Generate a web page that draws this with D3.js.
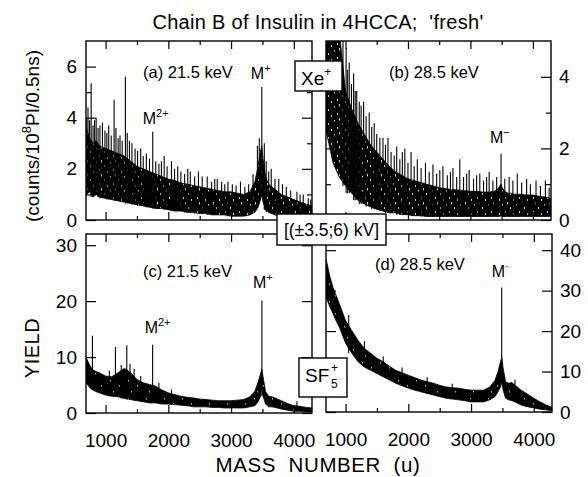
<!DOCTYPE html>
<html>
<head>
<meta charset="utf-8">
<script src="https://cdn.jsdelivr.net/npm/d3@7"></script>
<style>
  body { margin: 0; background: #fff; }
  svg { display: block; font-family: "Liberation Sans", Arial, Helvetica, sans-serif; }
</style>
</head>
<body>
<div id="chart"></div>
<script>
// mass grid shared by the four spectra (u)
const massGrid = [690,750,800,850,900,1000,1100,1200,1300,1400,1500,1600,1700,1800,1900,2000,2100,2200,2300,2400,2500,2600,2700,2800,2900,3000,3100,3200,3300,3380,3430,3470,3490,3510,3550,3600,3650,3700,3800,3900,4000,4100,4200,4290];

// (a) 21.5 keV positive ions: lower / upper edge of the noise band
const aLow  = [1.0,1.1,0.9,1.0,0.9,0.85,0.8,0.75,0.7,0.65,0.6,0.55,0.5,0.45,0.45,0.4,0.35,0.35,0.3,0.3,0.25,0.25,0.2,0.2,0.2,0.15,0.15,0.15,0.2,0.3,0.5,0.8,1.0,0.7,0.4,0.3,0.25,0.2,0.15,0.1,0.1,0.05,0.05,0.05];
const aHigh = [3.6,3.2,3.0,3.1,2.9,2.8,2.7,2.6,2.5,2.3,2.1,2.0,1.9,1.8,1.7,1.6,1.55,1.45,1.4,1.35,1.3,1.25,1.2,1.15,1.1,1.1,1.05,1.0,1.1,1.5,2.1,2.7,2.9,2.4,1.7,1.4,1.3,1.2,1.0,0.9,0.8,0.7,0.62,0.55];
const aSpikes = [[700,4.0],[720,4.4],[745,3.9],[770,5.35],[800,3.7],[825,3.9],[850,4.0],[880,3.6],[910,3.7],[950,3.8],[990,3.5],[1020,3.4],[1050,3.7],[1090,3.3],[1136,4.7],[1165,3.6],[1200,3.2],[1230,3.3],[1265,3.1],[1316,5.6],[1345,3.4],[1380,3.1],[1420,3.0],[1470,2.8],[1510,2.7],[1560,2.8],[1600,2.5],[1650,2.6],[1700,2.4],[1752,3.45],[1800,2.3],[1850,2.2],[1890,2.3],[1934,2.5],[1980,2.1],[2050,2.3],[2100,2.0],[2150,2.1],[2200,1.9],[2260,1.8],[2310,2.0],[2350,1.9],[2420,1.7],[2480,1.9],[2540,1.7],[2620,1.7],[2690,1.5],[2740,1.6],[2780,1.6],[2850,1.5],[2900,1.4],[2950,1.5],[3020,1.4],[3080,1.35],[3150,1.5],[3220,1.3],[3280,1.4],[3350,1.8],[3420,2.9],[3450,3.2],[3490,5.2],[3530,3.0],[3560,2.3],[3600,1.9],[3640,2.0],[3700,1.6],[3760,1.6],[3820,1.4],[3880,1.3],[3950,1.15],[4050,1.1],[4100,1.0],[4150,1.0],[4230,0.85],[4270,0.8]];

// (b) 28.5 keV negative ions
const bLow  = [2.5,2.0,1.6,1.4,1.2,0.95,0.75,0.55,0.45,0.37,0.3,0.25,0.2,0.2,0.15,0.15,0.12,0.12,0.1,0.1,0.1,0.1,0.1,0.1,0.1,0.1,0.1,0.1,0.1,0.1,0.1,0.1,0.12,0.1,0.1,0.1,0.1,0.1,0.1,0.1,0.1,0.1,0.1,0.1];
const bHigh = [6,6,6,6,5.3,3.6,3.1,2.7,2.4,2.1,1.9,1.7,1.5,1.35,1.25,1.15,1.1,1.05,1.0,0.95,0.9,0.88,0.85,0.84,0.82,0.8,0.8,0.78,0.78,0.8,0.85,0.95,1.0,0.9,0.8,0.75,0.75,0.72,0.72,0.7,0.7,0.66,0.64,0.6];
const bSpikes = [[960,5.2],[1010,4.8],[1035,4.2],[1060,4.4],[1095,3.8],[1130,4.1],[1155,3.6],[1180,3.6],[1220,3.3],[1250,3.2],[1290,3.3],[1330,2.9],[1380,3.0],[1420,2.6],[1460,2.7],[1500,2.4],[1550,2.3],[1600,2.3],[1640,2.1],[1680,2.3],[1730,1.9],[1780,1.8],[1820,2.05],[1870,1.7],[1910,1.9],[1950,2.0],[2000,1.6],[2050,1.9],[2100,1.5],[2150,1.7],[2210,1.45],[2280,1.6],[2340,1.35],[2400,1.55],[2460,1.3],[2510,1.4],[2560,1.5],[2630,1.25],[2680,1.35],[2720,1.45],[2780,1.2],[2830,1.7],[2890,1.2],[2940,1.3],[2980,1.4],[3050,1.15],[3100,1.25],[3150,1.3],[3210,1.1],[3260,1.2],[3300,1.35],[3360,1.1],[3420,1.2],[3490,1.85],[3550,1.15],[3620,1.2],[3680,1.1],[3750,1.3],[3820,1.05],[3900,1.15],[3960,1.0],[4050,1.1],[4120,0.95],[4200,1.1],[4260,0.9]];

// (c) 21.5 keV positive ions, second run
const cLow  = [5.4,4.5,4.1,3.8,3.6,3.2,3.0,2.9,2.6,2.4,2.2,2.0,1.8,1.8,1.6,1.6,1.5,1.4,1.3,1.1,1.1,1.1,1.0,1.0,0.9,0.9,0.9,0.9,1.1,1.3,2.0,3.0,4.5,3.0,1.6,1.1,1.1,1.0,0.7,0.5,0.3,0.3,0.2,0.2];
const cHigh = [9.9,8.5,7.7,7.4,7.2,6.6,6.5,7.2,8.0,7.2,6.0,5.4,5.1,4.8,4.1,3.6,3.3,3.0,2.8,2.7,2.5,2.4,2.3,2.2,2.2,2.2,2.3,2.4,2.9,3.9,5.5,7.0,7.8,6.5,3.8,3.0,2.9,2.7,2.2,1.7,1.3,1.2,1.0,0.9];
const cSpikes = [[790,13.8],[1060,7.6],[1157,11.8],[1250,8.6],[1338,12.1],[1390,8.8],[1455,7.9],[1560,6.6],[1750,12.2],[1850,5.4],[2050,4.2],[3492,20.1],[4050,2.1]];

// (d) 28.5 keV negative ions, second run
const dLow  = [28.3,26,24.3,22.5,21,17,14.5,12.4,11.1,10.3,9.5,8.7,7.9,7.1,6.5,5.9,5.4,5.0,4.6,4.2,3.8,3.4,3.2,3.0,2.8,2.5,2.5,2.5,3.0,3.8,5.0,6.2,7.5,5.5,3.4,3.0,2.8,2.5,1.7,1.3,1.0,0.7,0.5,0.3];
const dHigh = [37.8,33.5,30.8,28.8,26.8,22.6,20.1,17.7,15.7,14.5,13.3,12.4,11.3,10.3,9.7,9.1,8.5,7.9,7.5,7.1,6.6,6.2,6.0,5.9,5.6,5.4,5.4,5.4,6.2,7.8,10.0,12.5,13.5,11.0,7.5,7.1,7.3,6.6,5.4,4.4,3.4,2.5,1.7,1.2];
const dSpikes = [[1050,24.0],[1300,17.5],[1600,13.8],[1900,11.0],[2300,8.6],[2700,7.0],[3488,30.8],[3700,8.0]];

const massMajor = [1000,2000,3000,4000];
const massMinor = [1500,2500,3500];

const W = 588, H = 477;
const svg = d3.select("#chart").append("svg").attr("width", W).attr("height", H);
const defs = svg.append("defs");

// scattered white specks give the dense noise band its scanned look
function speckPattern(id, size, specks) {
  const pat = defs.append("pattern").attr("id", id)
    .attr("patternUnits", "userSpaceOnUse").attr("width", size).attr("height", size);
  pat.append("rect").attr("width", size).attr("height", size).attr("fill", "#000");
  pat.selectAll("rect.speck").data(specks).join("rect").attr("class", "speck")
    .attr("x", d => d[0]).attr("y", d => d[1]).attr("width", d => d[2]).attr("height", d => d[3])
    .attr("fill", "#fff");
}
speckPattern("noiseLight", 14, [[1,1,0.8,2],[9,3,0.8,2],[3,6,0.8,2.5],[12,8,0.8,1.5],[6,11,0.8,2]]);
speckPattern("noiseDense", 18, [[2,2,0.7,1.5],[11,7,0.7,1.5],[5,13,0.7,1.5]]);

const panels = [
  { key:"a", x0:86,  x1:312, y0:41,  y1:220, yMax:7,  lo:aLow, hi:aHigh, spikes:aSpikes, fill:"noiseLight",
    major:[0,2,4,6], minor:[1,3,5], side:"left", xLabels:false },
  { key:"b", x0:326, x1:551, y0:41,  y1:220, yMax:5,  lo:bLow, hi:bHigh, spikes:bSpikes, fill:"noiseLight",
    major:[0,2,4], minor:[1,3], side:"right", xLabels:false },
  { key:"c", x0:86,  x1:312, y0:234, y1:413, yMax:32, lo:cLow, hi:cHigh, spikes:cSpikes, fill:"noiseDense",
    major:[0,10,20,30], minor:[], side:"left", xLabels:true },
  { key:"d", x0:326, x1:552, y0:234, y1:412, yMax:44, lo:dLow, hi:dHigh, spikes:dSpikes, fill:"noiseDense",
    major:[0,10,20,30,40], minor:[], side:"right", xLabels:true }
];

const bisect = d3.bisector(d => d).left;

panels.forEach(p => {
  const x = d3.scaleLinear().domain([688, 4290]).range([p.x0, p.x1]);
  const y = d3.scaleLinear().domain([0, p.yMax]).range([p.y1, p.y0]);
  p.x = x; p.y = y;

  svg.append("clipPath").attr("id", "clip-" + p.key)
    .append("rect").attr("x", p.x0).attr("y", p.y0).attr("width", p.x1 - p.x0).attr("height", p.y1 - p.y0);

  const g = svg.append("g").attr("clip-path", `url(#clip-${p.key})`);
  const band = massGrid.map((m, i) => ({ m, lo: p.lo[i], hi: p.hi[i] }));

  g.append("path").datum(band)
    .attr("d", d3.area().x(d => x(d.m)).y0(d => y(d.lo)).y1(d => y(d.hi)))
    .attr("fill", `url(#${p.fill})`).attr("stroke", "#000").attr("stroke-width", 0.8);

  g.selectAll("line.spike").data(p.spikes).join("line")
    .attr("class", "spike")
    .attr("x1", d => x(d[0])).attr("x2", d => x(d[0]))
    .attr("y1", d => { const i = Math.min(bisect(massGrid, d[0]), massGrid.length - 1); return y(p.lo[i]); })
    .attr("y2", d => y(d[1]))
    .attr("stroke", "#000").attr("stroke-width", 1.1);

  // axes with inward ticks on all four sides
  const ax = svg.append("g").attr("class", "axes");
  const yl = ax.append("g").attr("transform", `translate(${p.x0},0)`)
    .call(d3.axisLeft(y).tickValues(p.major).tickSize(-10).tickPadding(9)
      .tickFormat(p.side === "left" ? d3.format("d") : ""));
  const yr = ax.append("g").attr("transform", `translate(${p.x1},0)`)
    .call(d3.axisRight(y).tickValues(p.major).tickSize(-10).tickPadding(8)
      .tickFormat(p.side === "right" ? d3.format("d") : ""));
  [yl, yr].forEach(s => s.call(a => a.select(".domain").remove()));
  if (p.minor.length) {
    ax.append("g").attr("transform", `translate(${p.x0},0)`)
      .call(d3.axisLeft(y).tickValues(p.minor).tickSize(-5).tickFormat(""))
      .call(a => a.select(".domain").remove());
    ax.append("g").attr("transform", `translate(${p.x1},0)`)
      .call(d3.axisRight(y).tickValues(p.minor).tickSize(-5).tickFormat(""))
      .call(a => a.select(".domain").remove());
  }
  const xb = ax.append("g").attr("transform", `translate(0,${p.y1})`)
    .call(d3.axisBottom(x).tickValues(massMajor).tickSize(-8).tickPadding(21)
      .tickFormat(p.xLabels ? d3.format("d") : ""));
  const xt = ax.append("g").attr("transform", `translate(0,${p.y0})`)
    .call(d3.axisTop(x).tickValues(massMajor).tickSize(-8).tickFormat(""));
  const xbm = ax.append("g").attr("transform", `translate(0,${p.y1})`)
    .call(d3.axisBottom(x).tickValues(massMinor).tickSize(-4).tickFormat(""));
  const xtm = ax.append("g").attr("transform", `translate(0,${p.y0})`)
    .call(d3.axisTop(x).tickValues(massMinor).tickSize(-4).tickFormat(""));
  [xb, xt, xbm, xtm].forEach(s => s.call(a => a.select(".domain").remove()));

  ax.selectAll(".tick line").attr("stroke", "#000").attr("stroke-width", 1.2);
  ax.selectAll(".tick text").attr("fill", "#000").style("font-size", "19px")
    .style("font-family", "'Liberation Sans', Arial, sans-serif");

  ax.append("rect").attr("x", p.x0).attr("y", p.y0)
    .attr("width", p.x1 - p.x0).attr("height", p.y1 - p.y0)
    .attr("fill", "none").attr("stroke", "#000").attr("stroke-width", 1.4);
});

// title
svg.append("text").attr("x", 318).attr("y", 29).attr("text-anchor", "middle")
  .style("font-size", "20px").style("letter-spacing", "0.3px").style("white-space", "pre")
  .text("Chain B of Insulin in 4HCCA;  'fresh'");

// panel captions
const captions = [
  { p:0, x:143, y:78,  t:"(a) 21.5 keV" },
  { p:1, x:389, y:78,  t:"(b) 28.5 keV" },
  { p:2, x:143, y:277, t:"(c) 21.5 keV" },
  { p:3, x:375, y:270, t:"(d) 28.5 keV" }
];
captions.forEach(c => svg.append("text").attr("x", c.x).attr("y", c.y)
  .style("font-size", "16.5px").text(c.t));

// ion labels, anchored on the peaks
function ionLabel(panel, mass, yPix, sup, dx) {
  const p = panels[panel];
  const t = svg.append("text").attr("x", p.x(mass) + dx).attr("y", yPix).style("font-size", "16px");
  t.append("tspan").text("M");
  t.append("tspan").attr("dy", -7).style("font-size", "11px").text(sup);
}
ionLabel(0, 3490, 79,  "+", -11);
ionLabel(0, 1752, 124, "2+", -10);
ionLabel(1, 3490, 143, "\u2212", -11);
ionLabel(2, 3492, 288, "+", -9);
ionLabel(2, 1750, 333, "2+", -8);
ionLabel(3, 3488, 277, "\u00b7", -10);

// boxes in the gap between the left and right spectra
function box(x, y, w, h) {
  svg.append("rect").attr("x", x).attr("y", y).attr("width", w).attr("height", h)
    .attr("fill", "#fff").attr("stroke", "#000").attr("stroke-width", 1.4);
}
box(295, 61, 47, 30);
const xe = svg.append("text").attr("x", 301).attr("y", 85).style("font-size", "19px");
xe.append("tspan").text("Xe");
xe.append("tspan").attr("dy", -9).style("font-size", "12px").text("+");

box(277, 214, 109, 31);
svg.append("text").attr("x", 331.5).attr("y", 236).attr("text-anchor", "middle")
  .style("font-size", "17.5px").text("[(\u00b13.5;6) kV]");

box(299, 358, 48, 39);
svg.append("text").attr("x", 305).attr("y", 382).style("font-size", "19px").text("SF");
svg.append("text").attr("x", 331).attr("y", 372).style("font-size", "12px").text("+");
svg.append("text").attr("x", 331).attr("y", 388).style("font-size", "12px").text("5");

// axis titles
svg.append("text").attr("x", 318).attr("y", 472).attr("text-anchor", "middle")
  .style("font-size", "20.5px").style("white-space", "pre").style("letter-spacing", "0.6px")
  .text("MASS  NUMBER  (u)");

svg.append("text").attr("transform", "translate(39,348) rotate(-90)").attr("text-anchor", "middle")
  .style("font-size", "20px").style("letter-spacing", "0.5px").text("YIELD");
const yt = svg.append("text").attr("transform", "translate(39,136) rotate(-90)")
  .attr("text-anchor", "middle").style("font-size", "19px");
yt.append("tspan").text("(counts/10");
yt.append("tspan").attr("dy", -8).style("font-size", "13px").text("8");
yt.append("tspan").attr("dy", 8).text("PI/0.5ns)");
</script>
</body>
</html>
